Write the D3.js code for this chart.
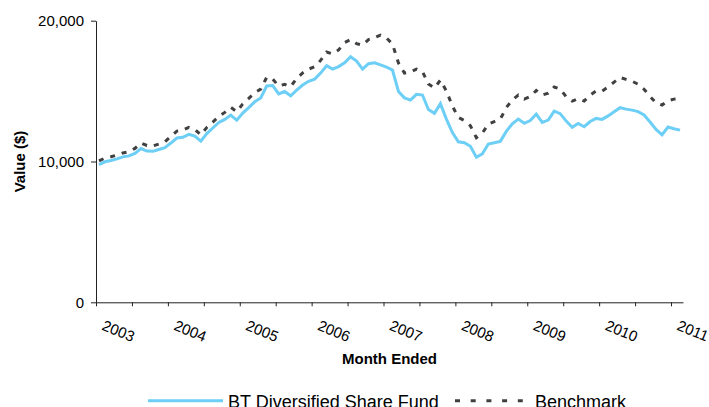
<!DOCTYPE html>
<html>
<head>
<style>
  body { margin: 0; background: #fff; }
  svg text { font-family: "Liberation Sans", Arial, sans-serif; fill: #000; }
</style>
<script src="https://d3js.org/d3.v7.min.js"></script>
</head>
<body>
<script>
// monthly values
const yearLabels = ["2003", "2004", "2005", "2006", "2007", "2008", "2009", "2010", "2011"];
const yTicks = [0, 10000, 20000];
const fund = [
  9780, 9980, 10070, 10190, 10330, 10400, 10580, 10920, 10740, 10720, 10850, 10980,
  11310, 11670, 11720, 11930, 11810, 11450, 11980, 12380, 12770, 12990, 13300, 12940,
  13440, 13830, 14240, 14510, 15360, 15390, 14800, 14970, 14670, 15070, 15430, 15700,
  15850, 16280, 16800, 16560, 16740, 17010, 17440, 17130, 16560, 16950, 17010, 16860,
  16710, 16490, 14970, 14520, 14360, 14770, 14720, 13690, 13420, 14110, 13010, 12060,
  11400, 11330, 11080, 10300, 10540, 11240, 11330, 11430, 12140, 12670, 13010, 12710,
  12910, 13370, 12780, 12940, 13580, 13400, 12870, 12430, 12700, 12470, 12840, 13060,
  12990, 13240, 13530, 13820, 13720, 13650, 13540, 13300, 12800, 12280, 11900, 12450,
  12330, 12230
];
const benchmark = [
  10040, 10250, 10340, 10460, 10610, 10690, 10930, 11320, 11140, 11110, 11240, 11400,
  11780, 12160, 12230, 12420, 12270, 11890, 12420, 12800, 13190, 13490, 13850, 13540,
  14090, 14480, 14880, 15140, 15980, 15850, 15360, 15480, 15310, 15900, 16290, 16560,
  16730, 17180, 17780, 17640, 17920, 18450, 18660, 18370, 18270, 18660, 18800, 18980,
  18770, 18340, 16990, 16280, 16350, 16560, 16390, 15500, 15220, 15780, 15000, 13940,
  13120, 12910, 12540, 11690, 12020, 12660, 12840, 13010, 13830, 14360, 14720, 14430,
  14610, 15040, 14720, 14860, 15290, 15140, 14600, 14290, 14470, 14290, 14720, 15010,
  15000, 15300, 15640, 15970, 15830, 15700, 15490, 15130, 14620, 14160, 14010, 14310,
  14430, 14470
];

const w = 709, h = 407;
const svg = d3.select("body").append("svg").attr("width", w).attr("height", h);

const x = d3.scaleLinear().domain([0, fund.length]).range([96, 683]);
const y = d3.scaleLinear().domain([0, 20000]).range([302.3, 20.7]);

// y axis
const yAxis = svg.append("g")
  .attr("transform", "translate(96,0)")
  .call(d3.axisLeft(y).tickValues(yTicks).tickSize(5).tickSizeOuter(0)
    .tickPadding(7).tickFormat(d3.format(",")));
yAxis.selectAll("text").style("font-size", "15px");

// x axis, a tick every 6 months
const xAxis = svg.append("g")
  .attr("transform", "translate(0,302.3)")
  .call(d3.axisBottom(x).tickValues(d3.range(0, fund.length, 6)).tickSize(4)
    .tickSizeOuter(0).tickFormat(""));

svg.selectAll(".domain, .tick line").attr("stroke", "#222");

svg.selectAll("text.year")
  .data(yearLabels)
  .join("text")
  .attr("class", "year")
  .attr("transform", (d, i) => `translate(${x(i * 12) + 5},329.5) rotate(22)`)
  .style("font-size", "15px")
  .text(d => d);

// axis titles
svg.append("text")
  .attr("x", 389.5).attr("y", 364)
  .attr("text-anchor", "middle")
  .style("font-size", "15px").style("font-weight", "bold")
  .text("Month Ended");

svg.append("text")
  .attr("transform", "translate(25,161.5) rotate(-90)")
  .attr("text-anchor", "middle")
  .style("font-size", "15px").style("font-weight", "bold")
  .text("Value ($)");

// lines
const line = d3.line().x((d, i) => x(i + 0.5)).y(d => y(d));

svg.append("path")
  .datum(fund)
  .attr("fill", "none")
  .attr("stroke", "#6dcff6")
  .attr("stroke-width", 3)
  .attr("d", line);

svg.append("path")
  .datum(benchmark)
  .attr("fill", "none")
  .attr("stroke", "#404040")
  .attr("stroke-width", 3)
  .attr("stroke-dasharray", "5,7")
  .attr("d", line);

// legend
const legend = svg.append("g");
legend.append("line")
  .attr("x1", 148).attr("x2", 223).attr("y1", 400.7).attr("y2", 400.7)
  .attr("stroke", "#6dcff6").attr("stroke-width", 3);
legend.append("text")
  .attr("x", 228).attr("y", 408)
  .style("font-size", "18px")
  .text("BT Diversified Share Fund");
legend.append("line")
  .attr("x1", 455).attr("x2", 523).attr("y1", 400.7).attr("y2", 400.7)
  .attr("stroke", "#404040").attr("stroke-width", 3)
  .attr("stroke-dasharray", "5,10.7");
legend.append("text")
  .attr("x", 535).attr("y", 408)
  .style("font-size", "18px")
  .text("Benchmark");
</script>
</body>
</html>
